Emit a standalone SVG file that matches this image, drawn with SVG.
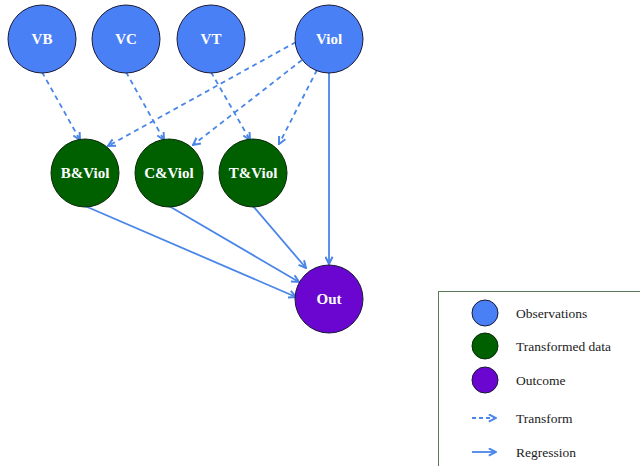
<svg xmlns="http://www.w3.org/2000/svg" width="640" height="466" viewBox="0 0 640 466">
<style>
.obs{fill:#4a80f5;stroke:#1a1a3a;stroke-width:1}
.tr{fill:#006000;stroke:#0a2a0a;stroke-width:1}
.out{fill:#6a06d0;stroke:#1a1a3a;stroke-width:1}
.lbl{font-family:"Liberation Serif",serif;font-weight:bold;font-size:15px;fill:#ffffff;text-anchor:middle;dominant-baseline:central}
.leg{font-family:"Liberation Serif",serif;font-size:13.5px;fill:#222222;dominant-baseline:central}
.dash{stroke:#4a86e8;stroke-width:1.8;fill:none;stroke-dasharray:5,4;marker-end:url(#ah)}
.solid{stroke:#4a86e8;stroke-width:1.8;fill:none;marker-end:url(#ah)}
</style>
<defs>
<marker id="ah" viewBox="0 0 10 10" refX="9" refY="5" markerWidth="9" markerHeight="9" markerUnits="userSpaceOnUse" orient="auto">
<path d="M1,1 L9,5 L1,9" fill="none" stroke="#4a86e8" stroke-width="2.2" stroke-dasharray="none"/>
</marker>
</defs>
<rect width="640" height="466" fill="#ffffff"/>
<g id="connectors">
<line class="dash" x1="42" y1="72" x2="80" y2="140"/>
<line class="dash" x1="126" y1="72" x2="164" y2="140"/>
<line class="dash" x1="211" y1="72" x2="250" y2="140"/>
<line class="dash" x1="296" y1="42" x2="108" y2="146"/>
<line class="dash" x1="302" y1="60" x2="193" y2="145"/>
<line class="dash" x1="317" y1="70" x2="279" y2="144"/>
<line class="solid" x1="329" y1="73" x2="329" y2="264"/>
<line class="solid" x1="85" y1="206" x2="296" y2="297"/>
<line class="solid" x1="169" y1="206" x2="299" y2="282"/>
<line class="solid" x1="253" y1="206" x2="306" y2="268"/>
</g>
<g id="VB"><circle class="obs" cx="42" cy="39" r="34"/><text class="lbl" x="42" y="39">VB</text></g>
<g id="VC"><circle class="obs" cx="126" cy="39" r="34"/><text class="lbl" x="126" y="39">VC</text></g>
<g id="VT"><circle class="obs" cx="211" cy="39" r="34"/><text class="lbl" x="211" y="39">VT</text></g>
<g id="Viol"><circle class="obs" cx="329" cy="39" r="34"/><text class="lbl" x="329" y="39">Viol</text></g>
<g id="BViol"><circle class="tr" cx="85" cy="173" r="34"/><text class="lbl" x="85" y="173">B&amp;Viol</text></g>
<g id="CViol"><circle class="tr" cx="169" cy="173" r="34"/><text class="lbl" x="169" y="173">C&amp;Viol</text></g>
<g id="TViol"><circle class="tr" cx="253" cy="173" r="34"/><text class="lbl" x="253" y="173">T&amp;Viol</text></g>
<g id="Out"><circle class="out" cx="329" cy="299" r="34"/><text class="lbl" x="329" y="299">Out</text></g>
<g id="legend">
<rect x="438.5" y="291.5" width="210" height="180" fill="#ffffff" stroke="#5a7a5a" stroke-width="1"/>
<circle class="obs" cx="485" cy="313" r="13"/>
<text class="leg" x="516" y="313">Observations</text>
<circle class="tr" cx="485" cy="346" r="13"/>
<text class="leg" x="516" y="346">Transformed data</text>
<circle class="out" cx="485" cy="380" r="13"/>
<text class="leg" x="516" y="380">Outcome</text>
<line class="dash" x1="472" y1="418" x2="496" y2="418" style="stroke-dasharray:4,3"/>
<text class="leg" x="516" y="418">Transform</text>
<line class="solid" x1="472" y1="452" x2="496" y2="452"/>
<text class="leg" x="516" y="452">Regression</text>
</g>
</svg>
